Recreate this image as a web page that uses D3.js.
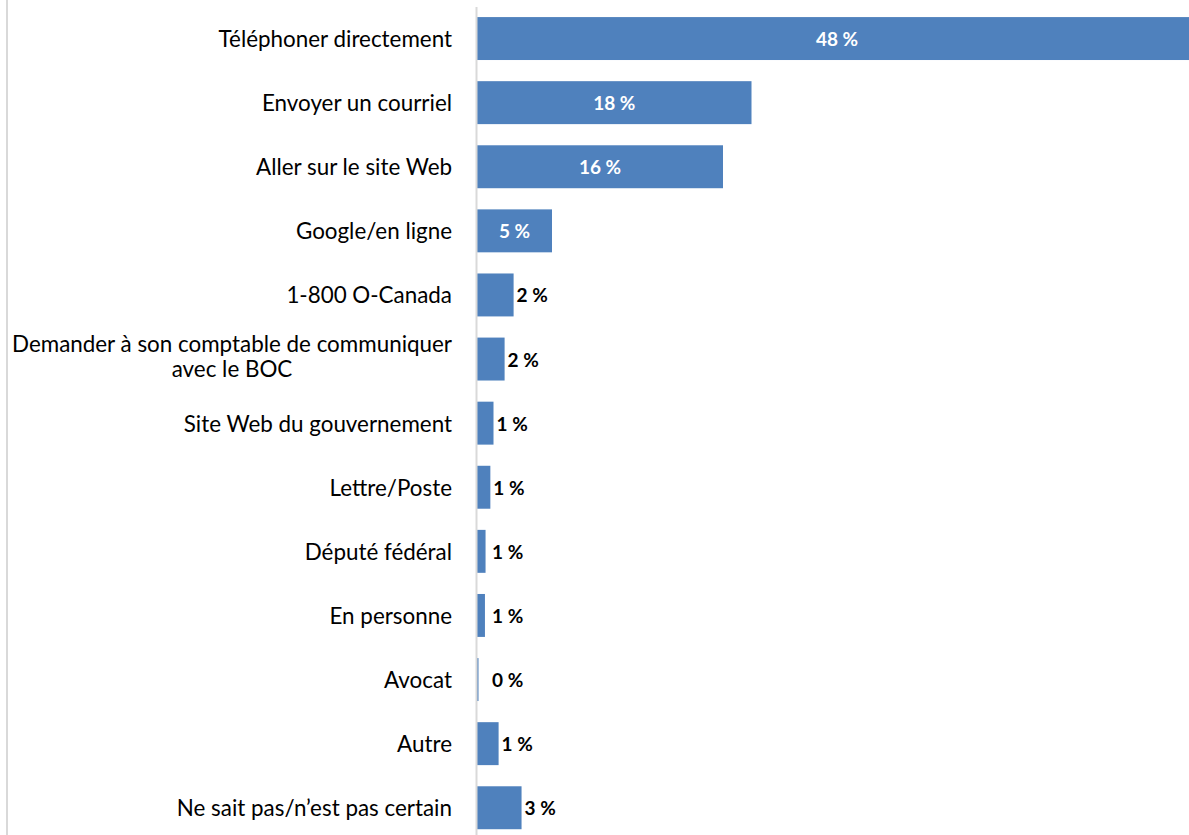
<!DOCTYPE html>
<html lang="fr">
<head>
<meta charset="utf-8">
<script src="https://cdn.jsdelivr.net/npm/d3@7"></script>
<style>
  html, body { margin: 0; padding: 0; background: #ffffff; }
  svg { display: block; }
  .cat { font-family: Lato, "Open Sans", sans-serif; font-size: 22.4px; fill: #000; }
  .val { font-family: Lato, "Open Sans", sans-serif; font-size: 19px; font-weight: bold; }
</style>
</head>
<body>
<svg id="chart" width="1189" height="835"></svg>
<script>
// Réponses : moyen utilisé pour communiquer (%)
const categories = [
  "Téléphoner directement",
  "Envoyer un courriel",
  "Aller sur le site Web",
  "Google/en ligne",
  "1-800 O-Canada",
  "Demander à son comptable de communiquer\navec le BOC",
  "Site Web du gouvernement",
  "Lettre/Poste",
  "Député fédéral",
  "En personne",
  "Avocat",
  "Autre",
  "Ne sait pas/n’est pas certain"
];
const values = [48, 18.3, 16.4, 5.0, 2.44, 1.84, 1.1, 0.89, 0.57, 0.53, 0.1, 1.44, 2.97];

const width = 1189, height = 835;
const svg = d3.select("#chart");

const axisX = 477;
const x = d3.scaleLinear().domain([0, 48]).range([axisX, axisX + 720]);
const y = d3.scaleBand()
  .domain(categories)
  .range([6.5, 839.8])
  .paddingInner(0.33)
  .paddingOuter(0.165);

const data = categories.map((c, i) => ({ cat: c, v: values[i] }));
const fmt = v => `${Math.round(v)} %`;
const inside = v => v >= 4;

// cadre gauche
svg.append("line")
  .attr("x1", 7).attr("x2", 7).attr("y1", 0).attr("y2", height)
  .attr("stroke", "#d9d9d9").attr("stroke-width", 2);

// barres
svg.append("g").selectAll("rect").data(data).join("rect")
  .attr("x", x(0))
  .attr("y", d => y(d.cat))
  .attr("width", d => Math.max(0.8, x(d.v) - x(0)))
  .attr("height", y.bandwidth())
  .attr("fill", "#4f81bd");

// axe vertical
svg.append("line")
  .attr("x1", axisX - 0.5).attr("x2", axisX - 0.5)
  .attr("y1", 7).attr("y2", height)
  .attr("stroke", "#d9d9d9").attr("stroke-width", 2);

// étiquettes de catégories (les libellés longs sont centrés sur deux lignes)
const catG = svg.append("g");
data.forEach(d => {
  const lines = d.cat.split("\n");
  const cy = y(d.cat) + y.bandwidth() / 2;
  const lh = 25;
  if (lines.length === 1) {
    catG.append("text").attr("class", "cat")
      .attr("text-anchor", "end")
      .attr("dominant-baseline", "central")
      .attr("x", 452).attr("y", cy).text(lines[0]);
  } else {
    const probe = catG.append("text").attr("class", "cat").text(lines[0]);
    const w = probe.node().getComputedTextLength();
    probe.remove();
    const cx = 452 - w / 2;
    lines.forEach((ln, i) => {
      catG.append("text").attr("class", "cat")
        .attr("text-anchor", "middle")
        .attr("dominant-baseline", "central")
        .attr("x", cx)
        .attr("y", cy - 3 + (i - (lines.length - 1) / 2) * lh)
        .text(ln);
    });
  }
});

// étiquettes de valeurs
svg.append("g").selectAll("text").data(data).join("text")
  .attr("class", "val")
  .attr("dominant-baseline", "central")
  .attr("y", d => y(d.cat) + y.bandwidth() / 2)
  .attr("x", d => inside(d.v)
    ? (x(0) + Math.min(x(d.v), x(0) + 720)) / 2
    : Math.max(x(d.v) + 3, axisX + 15))
  .attr("text-anchor", d => inside(d.v) ? "middle" : "start")
  .attr("fill", d => inside(d.v) ? "#ffffff" : "#000000")
  .text(d => fmt(d.v));
</script>
</body>
</html>
